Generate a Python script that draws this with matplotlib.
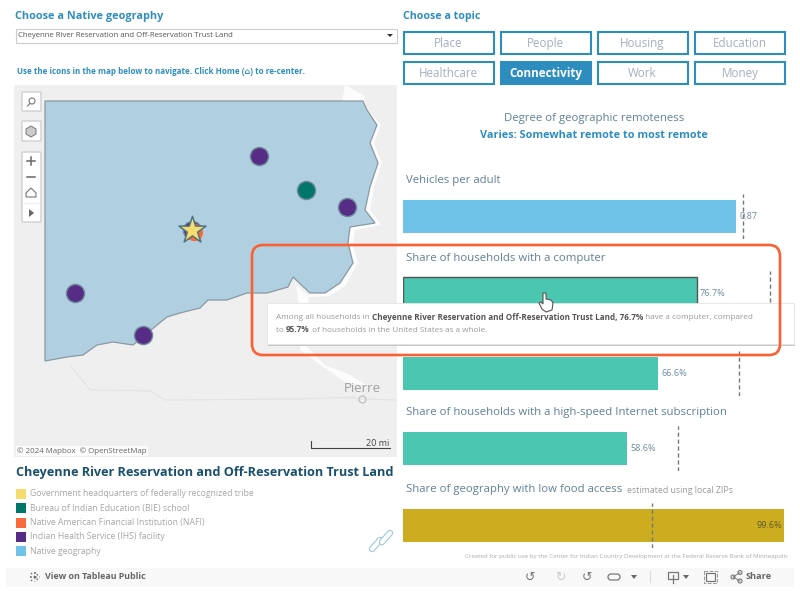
import matplotlib
matplotlib.use("Agg")
import matplotlib.pyplot as plt
from matplotlib.patches import FancyBboxPatch, Rectangle, Polygon, Circle

plt.rcParams['font.family'] = ['Open Sans', 'DejaVu Sans']

# bar chart data
metrics = ["Vehicles per adult", "Share of households with a computer", "",
           "Share of households with a high-speed Internet subscription",
           "Share of geography with low food access"]
values = [0.87, 76.7, 66.6, 58.6, 99.6]
us_values = [0.888, 95.7, 87.6, 71.8, 64.9]
value_labels = ["0.87", "76.7%", "66.6%", "58.6%", "99.6%"]
axis_max = [1, 100, 100, 100, 100]
bar_colors = ["#6fc3e9", "#4bc6b0", "#4bc6b0", "#4bc6b0", "#ccad1f"]

topics = ["Place", "People", "Housing", "Education",
          "Healthcare", "Connectivity", "Work", "Money"]

legend_labels = ["Government headquarters of federally recognized tribe",
                 "Bureau of Indian Education (BIE) school",
                 "Native American Financial Institution (NAFI)",
                 "Indian Health Service (IHS) facility",
                 "Native geography"]
legend_colors = ["#f5dc6e", "#00756a", "#fb6a3a", "#572c86", "#6fc3e9"]

# map data, in screen pixels of the map panel
reservation_x = [45, 363, 367, 377, 370, 378, 370, 365, 375, 350, 348, 353, 340, 325, 310, 293,
                 288, 267, 247, 227, 208, 200, 180, 167, 157, 133, 113, 97, 83, 67, 45]
reservation_y = [101, 101, 110, 125, 143, 163, 187, 210, 223, 227, 243, 263, 283, 293, 293, 277,
                 287, 293, 293, 300, 300, 308, 313, 317, 325, 345, 342, 345, 355, 357, 361]
ihs_x = [259, 347, 75, 143]
ihs_y = [156, 207, 293, 335]
bie_x = [306]
bie_y = [190]
hq_x = [192]
hq_y = [230]
river_x = [345, 363, 368, 381, 374, 382, 374, 370, 381, 355, 353, 358, 345, 330, 310, 296,
           305, 325, 350, 368, 345, 322, 300]
river_y = [85, 95, 110, 125, 143, 163, 187, 210, 225, 230, 245, 263, 286, 296, 297, 285,
           345, 365, 375, 386, 382, 366, 350]

BLUE = "#2d8dbf"
TITLE = "#5f8198"
GREY = "#a6a6a6"

fig = plt.figure(figsize=(8, 5.91), dpi=100, facecolor="white")


def px_axes(x0, y0, x1, y1, z):
    return fig.add_axes([x0 / 800, 1 - y1 / 591, (x1 - x0) / 800, (y1 - y0) / 591], zorder=z)


# map panel
m = px_axes(14, 85, 397, 457, 1)
m.set_xlim(14, 397)
m.set_ylim(457, 85)
m.axis("off")
m.add_patch(Rectangle((14, 85), 383, 372, fc="#efefef", ec="none"))
m.fill(river_x, river_y, color="white", lw=0, alpha=0.85)
m.add_patch(Polygon(list(zip(reservation_x, reservation_y)), fc="#b0d0e2", ec="#8a98a0", lw=0.9))
m.scatter(ihs_x, ihs_y, s=170, color="#572c86", edgecolor="#6f8a99", lw=1, zorder=3)
m.scatter(bie_x, bie_y, s=170, color="#00756a", edgecolor="#6f8a99", lw=1, zorder=3)
m.scatter(hq_x, hq_y, s=170, color="#572c86", edgecolor="#6f8a99", lw=1, zorder=3)
m.scatter([v + 2 for v in hq_x], [v + 2 for v in hq_y], s=130, color="#fb6a3a", zorder=3)
m.scatter(hq_x, hq_y, s=420, marker="*", color="#f5dc6e", edgecolor="#4e7480", lw=1.1, zorder=4)
m.text(362, 388, "Pierre", color="#a0a0a0", fontsize=9.5, ha="center", va="center")
m.plot([362], [399], "o", ms=5, mfc="none", mec="#c4c4c4", zorder=3)
m.plot([340, 350, 362, 397], [398, 398, 399, 400], color="#e3e3e3", lw=0.8)
m.plot([70, 90, 150, 165, 300, 355], [365, 390, 391, 400, 399, 397], color="#e3e3e3", lw=0.8)
m.plot([311, 311, 390], [441, 448, 448], color="#444444", lw=0.8)
m.text(389, 443, "20 mi", fontsize=6.5, color="#444444", ha="right", va="center")
m.text(17, 451, "© 2024 Mapbox  © OpenStreetMap", fontsize=5.7, color="#666666", va="center",
       bbox=dict(fc="white", ec="none", alpha=0.8, pad=1))

# bars
bar_tops = [200, 277, 357, 432, 509]
bar_h = 33
for i in range(len(values)):
    top = bar_tops[i]
    ax = px_axes(403, top - 6, 786, top + bar_h + 6, 2)
    ax.set_xlim(0, axis_max[i])
    ax.set_ylim(bar_h + 6, -6)
    ax.axis("off")
    edge = "#555555" if i == 1 else "none"
    ax.barh(bar_h / 2, values[i], height=bar_h, color=bar_colors[i], edgecolor=edge, lw=1)
    ax.axvline(us_values[i], color="#777777", ls=(0, (3, 2)), lw=1)
    if i == 4:
        ax.text(values[i] * 0.995, bar_h / 2, value_labels[i], color="#5a5a30", fontsize=6.6,
                ha="right", va="center")
    else:
        ax.text(values[i] + axis_max[i] * 0.008, bar_h / 2, value_labels[i], color="#6b8ba0",
                fontsize=6.6, va="center", clip_on=False)

# everything on top: text and controls, in pixels
o = px_axes(0, 0, 800, 591, 3)
o.set_xlim(0, 800)
o.set_ylim(591, 0)
o.axis("off")
o.patch.set_alpha(0)

o.text(15, 16.5, "Choose a Native geography", color=BLUE, fontsize=7.85, fontweight="bold", va="center")
o.add_patch(Rectangle((15.5, 28.5), 381, 14, fc="white", ec="#cccccc", lw=0.8))
o.text(18, 35.5, "Cheyenne River Reservation and Off-Reservation Trust Land", color="#555555",
       fontsize=5.55, va="center")
o.add_patch(Polygon([(387, 34), (393, 34), (390, 37)], fc="#333333"))
o.text(17, 71.5, "Use the icons in the map below to navigate. Click Home (⌂) to re-center.", color=BLUE,
       fontsize=5.75, fontweight="bold", va="center")

o.text(403, 17, "Choose a topic", color=BLUE, fontsize=7.7, fontweight="bold", va="center")
xs = [403.5, 500.5, 597.5, 695]
for i, name in enumerate(topics):
    x = xs[i % 4]
    y = 31.5 if i < 4 else 61.5
    active = name == "Connectivity"
    o.add_patch(Rectangle((x, y), 90, 22.5, fc=BLUE if active else "white", ec=BLUE, lw=1.5))
    o.text(x + 45, y + 15.5, name, ha="center", va="baseline", fontsize=8.4,
           color="white" if active else "#a3afc0", fontweight="bold" if active else "normal")

o.text(594, 119, "Degree of geographic remoteness", color=TITLE, fontsize=8.2, ha="center", va="center")
o.text(594, 135, "Varies: Somewhat remote to most remote", color=BLUE, fontsize=7.8,
       fontweight="bold", ha="center", va="center")

title_ys = [180, 258, None, 412.5, 489.5]
for name, y in zip(metrics, title_ys):
    if y is not None:
        o.text(406, y, name, color=TITLE, fontsize=8.2, va="center")
o.text(627, 490.5, "estimated using local ZIPs", color="#999999", fontsize=6.3, va="center")
o.text(788, 556.5, "Created for public use by the Center for Indian Country Development at the Federal "
       "Reserve Bank of Minneapolis", color="#aaaaaa", fontsize=4.45, ha="right", va="center")

# map controls
for x0, y0, h in [(22, 92, 19), (22, 121, 20), (22, 152, 70)]:
    o.add_patch(FancyBboxPatch((x0, y0), 19, h, boxstyle="round,pad=0,rounding_size=1", fc="white",
                               ec="#cfcfcf", lw=1))
o.add_patch(Circle((32, 101), 3, fc="none", ec="#777777", lw=0.8))
o.plot([30, 27.5], [103.5, 106], color="#777777", lw=0.8)
o.add_patch(Polygon([(31, 126), (36, 129), (36, 134), (31, 137), (26, 134), (26, 129)], fc="#cccccc",
                    ec="#777777", lw=0.7))
o.plot([27, 35], [161, 161], color="#666666", lw=1.1)
o.plot([31, 31], [157, 165], color="#666666", lw=1.1)
o.plot([27, 35], [177, 177], color="#666666", lw=1.1)
o.add_patch(Polygon([(26, 193), (31, 188), (36, 193), (36, 197), (26, 197)], fc="white", ec="#777777", lw=0.8))
o.plot([24, 38], [203, 203], color="#eeeeee", lw=0.8)
o.add_patch(Polygon([(29, 209), (34, 213), (29, 217)], fc="#666666"))

# legend
legend_ys = [494, 508, 522.5, 536.5, 551]
o.text(16, 472.5, "Cheyenne River Reservation and Off-Reservation Trust Land", color="#18506f",
       fontsize=9.13, fontweight="bold", va="center")
for label, color, y in zip(legend_labels, legend_colors, legend_ys):
    o.add_patch(Rectangle((16, y - 5), 10, 10, fc=color, ec="none"))
    o.text(30, y, label, color=GREY, fontsize=6.2, va="center")

# link icon
for seg_x, seg_y in [([372, 380], [549, 540]), ([382, 390], [542, 533])]:
    o.plot(seg_x, seg_y, color="#9cc8df", lw=4.6, solid_capstyle="round")
    o.plot(seg_x, seg_y, color="white", lw=3.0, solid_capstyle="round")

# tooltip and callout
tip = 5.87
o.add_patch(Rectangle((268, 305), 527, 41, fc="#c8c8c8", ec="none"))
o.add_patch(Rectangle((267, 303), 527, 41, fc="white", ec="#e4e4e4", lw=0.6))
t1 = o.text(276, 317.5, "Among all households in ", color="#999999", fontsize=tip, va="center")
t2 = o.annotate("Cheyenne River Reservation and Off-Reservation Trust Land, 76.7%", xy=(1, 0.5),
                xycoords=t1, va="center", color="#555555", fontsize=tip, fontweight="bold")
o.annotate(" have a computer, compared", xy=(1, 0.5), xycoords=t2, va="center", color="#999999", fontsize=tip)
t3 = o.text(276, 330, "to ", color="#999999", fontsize=tip, va="center")
t4 = o.annotate("95.7%", xy=(1, 0.5), xycoords=t3, va="center", color="#555555", fontsize=tip, fontweight="bold")
o.annotate(" of households in the United States as a whole.", xy=(1, 0.5), xycoords=t4, va="center",
           color="#999999", fontsize=tip)
o.add_patch(FancyBboxPatch((252, 245), 528, 110, boxstyle="round,pad=0,rounding_size=11", fc="none",
                           ec="#fb6035", lw=1.9))

# hand cursor
hand = [(543, 293), (546, 293), (546, 299), (551, 300), (553, 303), (552, 310), (546, 312), (542, 309),
        (539, 303), (541, 302), (543, 304)]
o.add_patch(Polygon(hand, fc="white", ec="#555555", lw=0.8))

# bottom toolbar
o.add_patch(Rectangle((6, 568), 788, 18.5, fc="#f8f8f8", ec="none"))
o.plot([35, 35], [572, 582], color="#777777", lw=1.3, ls=":")
o.plot([30, 40], [577, 577], color="#777777", lw=1.3, ls=":")
o.plot([31, 39], [573, 581], color="#777777", lw=1.1, ls=":")
o.plot([31, 39], [581, 573], color="#777777", lw=1.1, ls=":")
o.text(45, 576.5, "View on Tableau Public", color="#666666", fontsize=6.4, fontweight="bold", va="center")
o.text(530, 577, "↺", color="#777777", fontsize=9, ha="center", va="center")
o.text(560, 577, "↻", color="#cccccc", fontsize=9, ha="center", va="center")
o.text(587, 577, "↺", color="#777777", fontsize=9, ha="center", va="center")
o.add_patch(FancyBboxPatch((608, 574), 12, 6, boxstyle="round,pad=0,rounding_size=3", fc="none", ec="#777777", lw=0.9))
o.add_patch(Polygon([(631, 575), (637, 575), (634, 579)], fc="#666666"))
o.plot([650, 650], [571, 582], color="#dddddd", lw=0.9)
o.add_patch(Rectangle((668, 572), 10, 7, fc="none", ec="#777777", lw=0.9))
o.plot([673, 673], [575, 583], color="#777777", lw=0.9)
o.add_patch(Polygon([(683, 575), (689, 575), (686, 579)], fc="#666666"))
o.add_patch(Rectangle((706, 573), 9, 8, fc="none", ec="#777777", lw=0.9))
o.add_patch(Rectangle((704, 571), 13, 12, fc="none", ec="#999999", lw=0.7, ls="--"))
o.add_patch(Circle((733, 577), 2, fc="none", ec="#777777", lw=0.8))
o.add_patch(Circle((740, 572.5), 2, fc="none", ec="#777777", lw=0.8))
o.add_patch(Circle((740, 581), 2, fc="none", ec="#777777", lw=0.8))
o.plot([740, 733, 740], [572.5, 577, 581], color="#777777", lw=0.7)
o.text(746, 576.5, "Share", color="#666666", fontsize=6.6, fontweight="bold", va="center")

fig.savefig("out.png", dpi=100)
